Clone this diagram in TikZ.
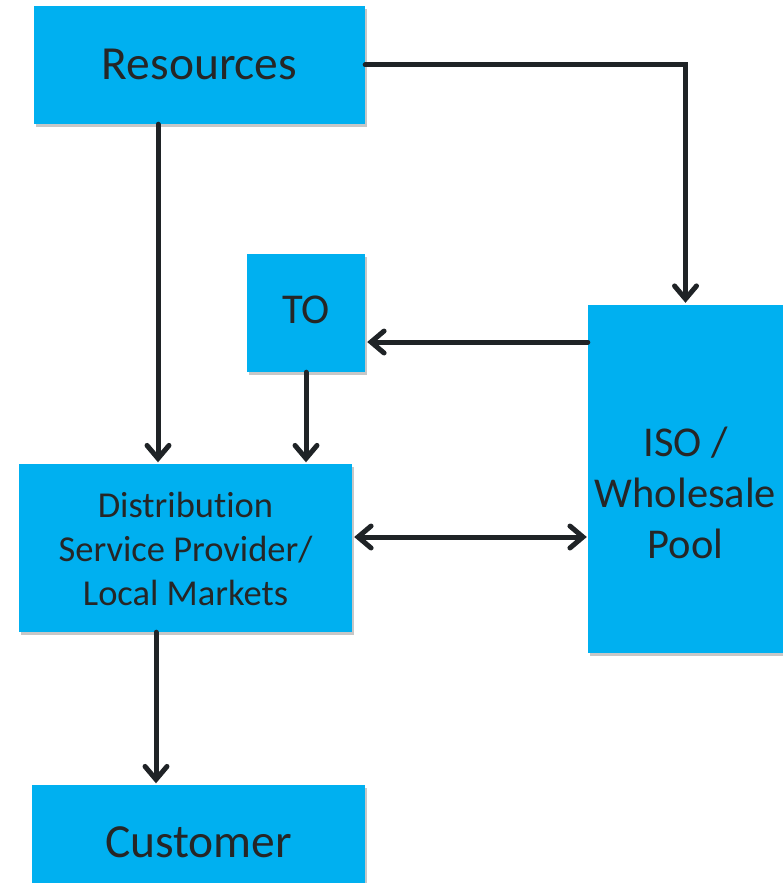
\documentclass[tikz,border=0pt]{standalone}
\usepackage{fontspec}
\setmainfont[Ligatures=CommonOff]{Carlito}
\usetikzlibrary{arrows.meta,shadows}
\definecolor{boxblue}{HTML}{00B0F0}
\definecolor{txt}{HTML}{262626}
\definecolor{arr}{HTML}{1F2326}
\newcommand{\shiftv}[2]{\raisebox{#1}[\height][\depth]{#2}}
\newcommand{\lines}[2]{\shiftv{#1}{\begin{tabular}{@{}c@{}}#2\end{tabular}}}
\begin{document}
\begin{tikzpicture}[x=1pt,y=-1pt,
  box/.style={fill=boxblue, draw=none, inner sep=0pt, align=center, text=txt,
    drop shadow={shadow xshift=2pt, shadow yshift=-3pt, opacity=0.22, fill=black}},
  conn/.style={draw=arr, line width=5pt, line cap=round, line join=miter,
    -{Straight Barb[length=13pt,width=22pt,line cap=round]}},
  conn2/.style={conn, {Straight Barb[length=13pt,width=22pt,line cap=round]}-{Straight Barb[length=13pt,width=22pt,line cap=round]}}]
\useasboundingbox (0,0) rectangle (783,883);
\begin{scope}
\clip (0,0) rectangle (783,883);
\node[box, minimum width=331pt, minimum height=118pt, font=\fontsize{47.5}{52}\selectfont] (res) at (199.5,65) {\shiftv{1pt}{Resources}};
\node[box, minimum width=118pt, minimum height=118pt, font=\fontsize{42.5}{48}\selectfont] (to) at (306,313) {\shiftv{3pt}{TO}};
\node[box, minimum width=195pt, minimum height=348pt, font=\fontsize{42.5}{51}\selectfont] (iso) at (685.5,479) {\lines{-18pt}{ISO /\\Wholesale\\Pool}};
\node[box, minimum width=333pt, minimum height=168pt, font=\fontsize{36.5}{44}\selectfont] (dsp) at (185.5,548) {\lines{-4.5pt}{Distribution\\Service Provider/\\Local Markets}};
\node[box, minimum width=333pt, minimum height=118pt, font=\fontsize{47.5}{52}\selectfont] (cus) at (198.5,844) {\shiftv{2pt}{Customer}};
\end{scope}
\coordinate (c1) at ([yshift=-29pt]to.east);
\coordinate (c2) at ([xshift=-41.5pt]res.south);
\coordinate (c3) at ([yshift=11pt]dsp.east);
\coordinate (c4) at ([xshift=-29.5pt]dsp.south);
\draw[conn] (res.east) -| ([yshift=2pt]iso.north);
\draw[conn] (iso.west |- c1) -- ([xshift=2pt]c1);
\draw[conn] (c2) -- ([yshift=1.5pt]c2 |- dsp.north);
\draw[conn] (to.south) -- ([yshift=1.5pt]to.south |- dsp.north);
\draw[conn2] ([xshift=2pt]c3) -- ([xshift=-1pt]iso.west |- c3);
\draw[conn] (c4) -- ([yshift=1.5pt]c4 |- cus.north);
\end{tikzpicture}
\end{document}
